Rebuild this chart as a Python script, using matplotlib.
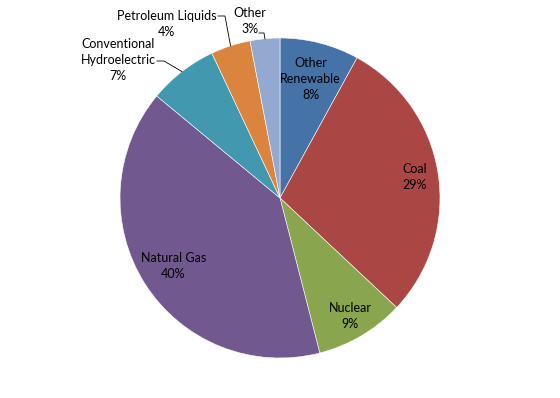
import numpy as np
import matplotlib
matplotlib.use("Agg")
import matplotlib.pyplot as plt

# share of generation, clockwise from 12 o'clock
categories = ["Other\nRenewable", "Coal", "Nuclear", "Natural Gas",
              "Conventional\nHydroelectric", "Petroleum Liquids", "Other"]
shares = [8, 29, 9, 40, 7, 4, 3]
colors = ["#4572A7", "#AA4643", "#89A54E", "#71588F",
          "#4198AF", "#DB843D", "#93A9CF"]

# labels inside the wedge: radial distance of the label
inside = {0: 0.77, 1: 0.85, 2: 0.86, 3: 0.79}
# labels outside the wedge: text position in axes data units
outside = {4: (-1.01, 0.86), 5: (-0.71, 1.085), 6: (-0.19, 1.105)}
# leader line stubs (pixels), the last point is the wedge edge
leaders = {4: [(157, 61), (164, 61)], 5: [(218, 16), (225, 16)],
           6: [(259, 33), (264, 33)]}

plt.rcParams['font.family'] = ['Lato', 'DejaVu Sans']

fig = plt.figure(figsize=(5.6, 3.98), dpi=100)
ax = fig.add_axes([120 / 560, 40 / 398, 320 / 560, 320 / 398])

wedges, _ = ax.pie(shares, colors=colors, startangle=90, counterclock=False,
                   radius=1.0, wedgeprops=dict(edgecolor="white", linewidth=0.4))


def px(x, y):
    return ((x - 280) / 160.0, (198 - y) / 160.0)


total = float(sum(shares))
cum = 0.0
for i, (name, val) in enumerate(zip(categories, shares)):
    mid = (cum + val / 2.0) / total * 360.0
    cum += val
    ang = np.deg2rad(90 - mid)
    dx, dy = np.cos(ang), np.sin(ang)
    text = "{0}\n{1}%".format(name, val)
    if i in inside:
        r = inside[i]
        tx, ty = r * dx, r * dy
    else:
        tx, ty = outside[i]
        pts = [px(*p) for p in leaders[i]] + [(dx, dy)]
        xs, ys = zip(*pts)
        ax.plot(xs, ys, color="black", lw=0.6, clip_on=False)
    ax.text(tx, ty, text, ha="center", va="center",
            fontsize=9, color="black", linespacing=1.4)

ax.set_xlim(-1, 1)
ax.set_ylim(-1, 1)
ax.set_aspect("equal")
ax.axis("off")

fig.savefig("out.png", dpi=100)
